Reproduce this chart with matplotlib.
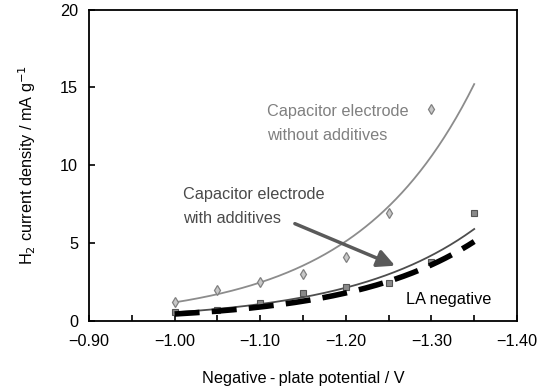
import numpy as np
import matplotlib
matplotlib.use("Agg")
import matplotlib.pyplot as plt
from matplotlib.ticker import MultipleLocator

plt.rcParams['font.family'] = ['Liberation Sans', 'DejaVu Sans']
plt.rcParams['font.size'] = 11.7

# measured points
pot_without = [-1.00, -1.05, -1.10, -1.15, -1.20, -1.25, -1.30]
cur_without = [1.24, 2.0, 2.5, 3.0, 4.1, 6.95, 13.6]

pot_with = [-1.00, -1.05, -1.10, -1.15, -1.20, -1.25, -1.30, -1.35]
cur_with = [0.55, 0.72, 1.17, 1.77, 2.16, 2.42, 3.79, 6.95]

# LA negative plate (line only)
pot_la = [-1.00, -1.05, -1.10, -1.15, -1.20, -1.25, -1.30, -1.35]
cur_la = [0.45, 0.64, 0.90, 1.28, 1.75, 2.52, 3.65, 5.15]


def exp_fit(x, y):
    # exponential trend line, y = a*exp(b*x)
    b, ln_a = np.polyfit(x, np.log(y), 1)
    xs = np.linspace(-1.00, -1.35, 200)
    return xs, np.exp(ln_a) * np.exp(b * xs)


fig = plt.figure(figsize=(5.39, 3.89), dpi=100)
ax = fig.add_axes([89 / 539, 1 - 321 / 389, (517 - 89) / 539, (321 - 9.5) / 389])

xs, ys = exp_fit(pot_without, cur_without)
ax.plot(xs, ys, color='#8c8c8c', lw=1.3, zorder=2)
ax.plot(pot_without, cur_without, ls='none', marker='d', ms=5.5,
        mfc='#c8c8c8', mec='#808080', mew=0.9, zorder=3)

xs, ys = exp_fit(pot_with, cur_with)
ax.plot(xs, ys, color='#4d4d4d', lw=1.3, zorder=2)
ax.plot(pot_with, cur_with, ls='none', marker='s', ms=4.6,
        mfc='#8a8a8a', mec='#555555', mew=0.8, zorder=3)

xs, ys = exp_fit(pot_la, cur_la)
ax.plot(xs, ys, color='black', lw=4, dashes=(4.5, 2.2), zorder=4)

ax.set_xlim(-0.90, -1.40)
ax.set_ylim(0, 20)
ax.xaxis.set_major_locator(MultipleLocator(0.1))
ax.xaxis.set_minor_locator(MultipleLocator(0.05))
ax.yaxis.set_major_locator(MultipleLocator(5))
ax.xaxis.set_major_formatter(plt.FuncFormatter(lambda v, p: f"{v:.2f}".replace('-', '\u2212')))
ax.tick_params(which='both', direction='in', length=4, width=1.2, top=False, right=False)
ax.tick_params(axis='x', pad=9)
ax.tick_params(axis='y', pad=8)
for s in ax.spines.values():
    s.set_linewidth(1.3)

ax.set_xlabel("Negative\u2009-\u2009plate potential / V", labelpad=16)
ax.set_ylabel("H$_2$ current density / mA g$^{-1}$", labelpad=16)

ax.text(-1.1085, 12.7, "Capacitor electrode\nwithout additives", color='#808080',
        ha='left', va='center', linespacing=1.75)
ax.text(-1.0095, 7.35, "Capacitor electrode\nwith additives", color='#4a4a4a',
        ha='left', va='center', linespacing=1.75)
ax.text(-1.27, 1.4, "LA negative", color='black', ha='left', va='center')

ax.annotate("", xy=(-1.2575, 3.55), xytext=(-1.1405, 6.25),
            arrowprops=dict(arrowstyle='-|>,head_length=0.9,head_width=0.45',
                            color='#5a5a5a', lw=2.5, shrinkA=0, shrinkB=0))

fig.savefig("out.png", dpi=100)
